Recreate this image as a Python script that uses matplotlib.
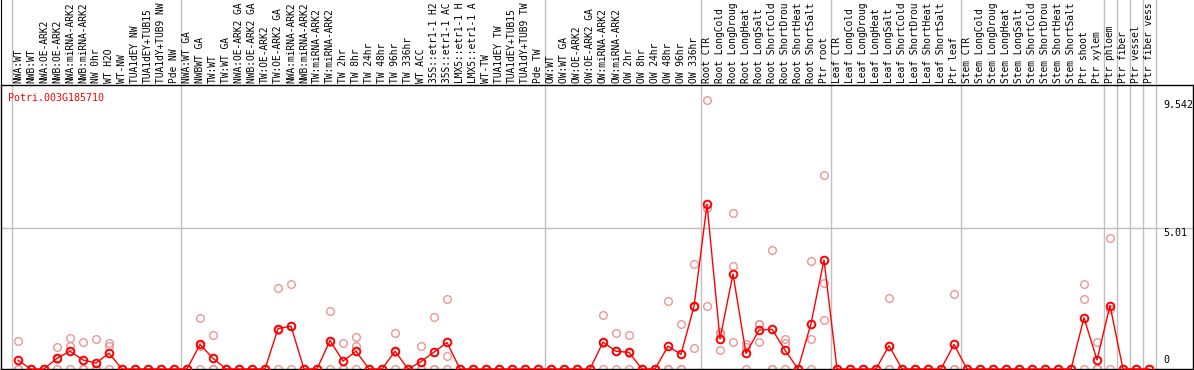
import matplotlib
matplotlib.use('Agg')
import matplotlib.pyplot as plt
import numpy as np

gene_id = "Potri.003G185710"

samples = [
    # NW
    "NWA:WT", "NWB:WT", "NWA:OE-ARK2", "NWB:OE-ARK2", "NWA:miRNA-ARK2", "NWB:miRNA-ARK2",
    "NW 0hr", "WT H2O", "WT-NW", "TUA1dEY NW", "TUA1dEY+TUB15 NW", "TUA1dY+TUB9 NW", "Pde NW",
    # TW
    "NWA:WT GA", "NWBWT GA", "TW:WT", "TW:WT GA", "NWA:OE-ARK2 GA", "NWB:OE-ARK2 GA",
    "TW:OE-ARK2", "TW:OE-ARK2 GA", "NWA:miRNA-ARK2", "NWB:miRNA-ARK2", "TW:miRNA-ARK2",
    "TW:miRNA-ARK2", "TW 2hr", "TW 8hr", "TW 24hr", "TW 48hr", "TW 96hr", "TW 336hr",
    "WT ACC", "35S::etr1-1 H2O", "35S::etr1-1 ACC", "LMX5::etr1-1 H2O", "LMX5::etr1-1 ACC",
    "WT-TW", "TUA1dEY TW", "TUA1dEY+TUB15 TW", "TUA1dY+TUB9 TW", "Pde TW",
    # OW
    "OW:WT", "OW:WT GA", "OW:OE-ARK2", "OW:OE-ARK2 GA", "OW:miRNA-ARK2", "OW:miRNA-ARK2",
    "OW 2hr", "OW 8hr", "OW 24hr", "OW 48hr", "OW 96hr", "OW 336hr",
    # root
    "Root CTR", "Root LongCold", "Root LongDrought", "Root LongHeat", "Root LongSalt",
    "Root ShortCold", "Root ShortDrought", "Root ShortHeat", "Root ShortSalt", "Ptr root",
    # leaf
    "Leaf CTR", "Leaf LongCold", "Leaf LongDrought", "Leaf LongHeat", "Leaf LongSalt",
    "Leaf ShortCold", "Leaf ShortDrought", "Leaf ShortHeat", "Leaf ShortSalt", "Ptr leaf",
    # stem
    "Stem CTR", "Stem LongCold", "Stem LongDrought", "Stem LongHeat", "Stem LongSalt",
    "Stem ShortCold", "Stem ShortDrought", "Stem ShortHeat", "Stem ShortSalt", "Ptr shoot",
    "Ptr xylem",
    "Ptr phloem", "Ptr fiber", "Ptr vessel", "Ptr fiber vessel",
]
group_sizes = [13, 28, 12, 10, 10, 11, 1, 1, 1, 1]

mean_expr = [
    0.31, 0, 0, 0.38, 0.63, 0.32, 0.21, 0.56, 0, 0, 0, 0, 0,
    0, 0.87, 0.38, 0, 0, 0, 0, 1.43, 1.52, 0, 0, 1.01, 0.28, 0.63, 0, 0, 0.63, 0,
    0.26, 0.60, 0.94, 0, 0, 0, 0, 0, 0, 0,
    0, 0, 0, 0, 0.95, 0.63, 0.59, 0, 0, 0.81, 0.52, 2.22,
    5.84, 1.07, 3.37, 0.55, 1.38, 1.41, 0.67, 0, 1.61, 3.87,
    0, 0, 0, 0, 0.83, 0, 0, 0, 0, 0.87,
    0, 0, 0, 0, 0, 0, 0, 0, 0, 1.82, 0.32,
    2.25, 0, 0, 0,
]
rep_a = [
    0.99, 0, 0, 0.77, 1.09, 0.95, 1.06, 0.93, 0, 0, 0, 0, 0,
    0, 1.80, 1.20, 0, 0, 0, 0, 2.89, 3.02, 0, 0, 2.07, 0.91, 1.12, 0, 0, 1.29, 0,
    0.81, 1.83, 2.47, 0, 0, 0, 0, 0, 0, 0,
    0, 0, 0, 0, 1.93, 1.26, 1.22, 0, 0, 2.42, 1.58, 3.73,
    9.542, 1.32, 5.53, 0.87, 1.59, 4.23, 1.08, 0, 3.83, 6.87,
    0, 0, 0, 0, 2.53, 0, 0, 0, 0, 2.67,
    0, 0, 0, 0, 0, 0, 0, 0, 0, 3.02, 0.94,
    4.65, 0, 0, 0,
]
rep_b = [
    0, 0, 0, 0.37, 0.82, 0, 0, 0.82, 0, 0, 0, 0, 0,
    0, 0.82, 0, 0, 0, 0, 0, 1.40, 1.54, 0, 0, 0.96, 0, 0.81, 0, 0, 0.60, 0,
    0, 0, 0.45, 0, 0, 0, 0, 0, 0, 0,
    0, 0, 0, 0, 0.92, 0.63, 0.55, 0, 0, 0, 0, 2.20,
    5.72, 1.23, 3.67, 0.78, 1.61, 0, 0.91, 0, 1.08, 3.06,
    0, 0, 0, 0, 0, 0, 0, 0, 0, 0,
    0, 0, 0, 0, 0, 0, 0, 0, 0, 2.49, 0.02,
    2.12, 0, 0, 0,
]
rep_c = [
    0, 0, 0, 0, 0, 0, 0, 0, 0, 0, 0, 0, 0,
    0, 0, 0, 0, 0, 0, 0, 0, 0, 0, 0, 0, 0, 0, 0, 0, 0, 0,
    0, 0, 0, 0, 0, 0, 0, 0, 0, 0,
    0, 0, 0, 0, 0, 0, 0, 0, 0, 0, 0, 0.73,
    2.25, 0.67, 0.94, 0, 0.94, 0, 0, 0, 0, 1.73,
    0, 0, 0, 0, 0, 0, 0, 0, 0, 0,
    0, 0, 0, 0, 0, 0, 0, 0, 0, 0, 0,
    0, 0, 0, 0,
]
ytick_values = [9.542, 5.01, 0]
ytick_labels = ["9.542", "5.01", "0"]

W, H = 1194, 370
FONT = "DejaVu Sans Mono"
RED = "#ff0000"
PINK = "#eb9696"
GRID = "#c0c0c0"
MAXCH = 14  # the header only has room for this many characters

fig = plt.figure(figsize=(W / 100, H / 100), dpi=100)
ax = fig.add_axes([1 / W, 1 / H, 1192 / W, 284 / H])
lab = fig.add_axes([1 / W, 285 / H, 1192 / W, 85 / H], sharex=ax)

x = np.arange(len(samples))
ax.set_xlim((1 - 18) / 13, (1193 - 18) / 13)
ax.set_ylim(0, 284 / 28.2)

# group separators
bounds = np.concatenate([[0], np.cumsum(group_sizes)]) - 0.5
for b in bounds:
    ax.axvline(b, color=GRID, lw=1, zorder=1)
    lab.axvline(b, color=GRID, lw=1, zorder=1)
ax.axhline(5.01, color=GRID, lw=1, zorder=1)

# replicates
for rep in (rep_a, rep_b, rep_c):
    ax.plot(x, rep, ls="none", marker="o", ms=5.5, mfc="none", mec=PINK, mew=1.0,
            clip_on=False, zorder=2)
# mean
ax.plot(x, mean_expr, color=RED, lw=1, marker="o", ms=5.5, mfc="none", mec=RED,
        mew=1.4, clip_on=False, zorder=3)

ax.set_xticks([])
ax.set_yticks([])
for s in ax.spines.values():
    s.set_color("black")
    s.set_linewidth(1)

# y value labels at the right
tx = len(samples) + 0.1
for v, t in zip(ytick_values, ytick_labels):
    if v == 0:
        ax.annotate(t, (tx, v), xytext=(0, 3), textcoords="offset points",
                    ha="left", va="bottom", fontsize=7.2, family=FONT)
    else:
        ax.text(tx, v, t, ha="left", va="top", fontsize=7.2, family=FONT)

ax.text(0.006, 0.972, gene_id, transform=ax.transAxes, color=RED, ha="left",
        va="top", fontsize=7.2, family=FONT)

# sample labels
lab.set_ylim(0, 85)
for i, name in enumerate(samples):
    lab.text(i, 2, name[:MAXCH].rstrip(), rotation=90, ha="center", va="bottom",
             fontsize=6.9, family=FONT, clip_on=False)
lab.set_xticks([])
lab.set_yticks([])
lab.spines["top"].set_visible(False)
lab.spines["right"].set_visible(False)
lab.spines["bottom"].set_visible(False)
lab.patch.set_alpha(0)

fig.savefig("out.png", dpi=100)
